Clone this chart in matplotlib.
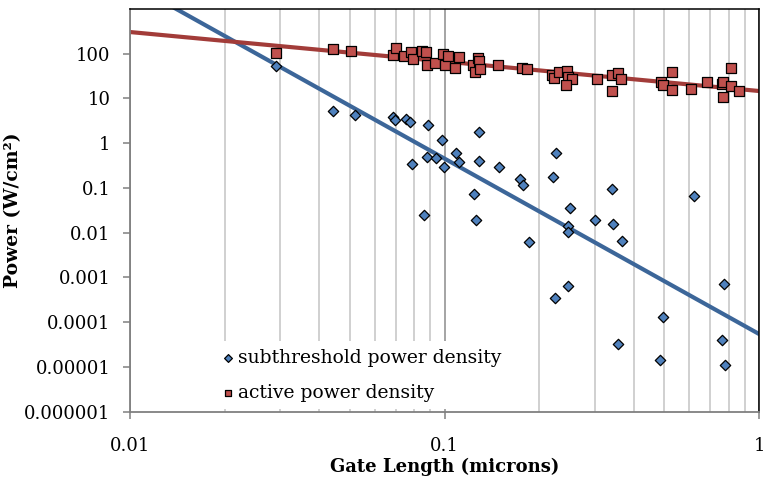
import matplotlib
matplotlib.use("Agg")
import matplotlib.pyplot as plt
import numpy as np
from matplotlib.ticker import FixedLocator, FixedFormatter, NullLocator

plt.rcParams['font.family'] = ['DejaVu Serif']

# gate length (microns) / power density (W/cm^2)
sub_x = [0.0292, 0.0441, 0.0518, 0.0686, 0.0697, 0.0752, 0.0779, 0.0885, 0.0984, 0.0787,
         0.0879, 0.094, 0.0998, 0.0858, 0.1089, 0.1116, 0.1285, 0.1285, 0.1486, 0.174,
         0.1783, 0.1245, 0.2208, 0.2265, 0.342, 0.622, 0.126, 0.2506, 0.2465, 0.2478,
         0.301, 0.344, 0.366, 0.1853, 0.2478, 0.2249, 0.775, 0.4936, 0.762, 0.356,
         0.485, 0.78]
sub_y = [53, 5.15, 4.33, 3.85, 3.23, 3.52, 2.97, 2.5, 1.19, 0.343,
         0.5, 0.46, 0.298, 0.0244, 0.615, 0.374, 1.82, 0.4, 0.288, 0.157,
         0.115, 0.0724, 0.172, 0.615, 0.097, 0.065, 0.0195, 0.0356, 0.0145, 0.0103,
         0.0195, 0.0153, 0.0067, 0.0063, 0.00066, 0.00034, 0.0007, 0.00013, 4.0e-5, 3.3e-5,
         1.4e-5, 1.1e-5]

act_x = [0.0292, 0.0441, 0.0506, 0.0686, 0.070, 0.0746, 0.0783, 0.0795, 0.085, 0.0876,
         0.0879, 0.093, 0.0988, 0.100, 0.1024, 0.1116, 0.108, 0.123, 0.1277, 0.1292,
         0.125, 0.1298, 0.1476, 0.1766, 0.1825, 0.2198, 0.2232, 0.2306, 0.2453, 0.2465,
         0.2537, 0.2433, 0.305, 0.3405, 0.355, 0.3644, 0.3405, 0.4875, 0.4936, 0.528,
         0.528, 0.61, 0.685, 0.762, 0.77, 0.766, 0.817, 0.817, 0.864]
act_y = [106, 126, 115, 92, 132, 89, 110, 78, 113, 110,
         55, 63, 97, 56, 89, 86, 49, 55, 79, 69,
         40, 46, 56, 47, 46, 34, 29, 40, 41, 31,
         27, 20, 27, 33, 38, 27, 15, 23, 20, 40,
         15.3, 16.4, 23, 21.6, 23, 11, 49, 19, 14.5]

# power-law trendlines y = a * x^b
sub_fit = (5.46e-5, -3.92)
act_fit = (14.7, -0.659)

y_ticks = [1e-6, 1e-5, 1e-4, 1e-3, 1e-2, 1e-1, 1, 10, 100]
y_labels = ['0.000001', '0.00001', '0.0001', '0.001', '0.01', '0.1', '1', '10', '100']
x_ticks = [0.01, 0.1, 1]
x_labels = ['0.01', '0.1', '1']

fig = plt.figure(figsize=(7.68, 4.86), dpi=100)
ax = fig.add_axes([130 / 768, 1 - 411.7 / 486, 629 / 768, 402.7 / 486])
ax.set_xscale('log')
ax.set_yscale('log')
ax.set_xlim(0.01, 1)
ax.set_ylim(1e-6, 1e3)

# vertical gridlines
ax.xaxis.grid(True, which='major', color='#8c8c8c', lw=1.1)
ax.xaxis.grid(True, which='minor', color='#c4c4c4', lw=1.1)
ax.set_axisbelow(True)

xs = np.logspace(-2, 0, 200)
ax.plot(xs, sub_fit[0] * xs ** sub_fit[1], color='#3c6699', lw=3, zorder=2)
ax.plot(xs, act_fit[0] * xs ** act_fit[1], color='#a23c39', lw=3, zorder=2)

s1 = ax.scatter(sub_x, sub_y, marker='D', s=28, facecolor='#4f81bd', edgecolor='black',
                lw=0.9, zorder=3, label='subthreshold power density')
s2 = ax.scatter(act_x, act_y, marker='s', s=42, facecolor='#c0504d', edgecolor='black',
                lw=0.9, zorder=3, label='active power density')

ax.yaxis.set_major_locator(FixedLocator(y_ticks))
ax.yaxis.set_major_formatter(FixedFormatter(y_labels))
ax.yaxis.set_minor_locator(NullLocator())
ax.xaxis.set_major_locator(FixedLocator(x_ticks))
ax.xaxis.set_major_formatter(FixedFormatter(x_labels))
ax.tick_params(axis='x', which='minor', length=0)
ax.tick_params(axis='y', which='major', length=5, width=1.1, color='#808080', pad=9,
               labelsize=13)
ax.tick_params(axis='x', which='major', length=5, width=1.1, color='#808080', pad=13,
               labelsize=13)

for side in ['left', 'bottom']:
    ax.spines[side].set_color('#808080')
    ax.spines[side].set_linewidth(1.3)
for side in ['top', 'right']:
    ax.spines[side].set_color('black')
    ax.spines[side].set_linewidth(1.1)

ax.set_xlabel('Gate Length (microns)', fontsize=13, fontweight='bold')
ax.xaxis.set_label_coords(0.5, -0.115)
ax.set_ylabel('Power (W/cm²)', fontsize=13.5, fontweight='bold')
ax.yaxis.set_label_coords(-0.172, 0.5)

leg = ax.legend(handles=[s1, s2], loc='lower left', bbox_to_anchor=(0.121, -0.017),
                fontsize=13.5, frameon=True, framealpha=1, edgecolor='none',
                facecolor='white', markerscale=0.75, handletextpad=0.22,
                labelspacing=0.93, handlelength=0.58, borderpad=0.38, fancybox=False)

fig.savefig('out.png', dpi=100)
